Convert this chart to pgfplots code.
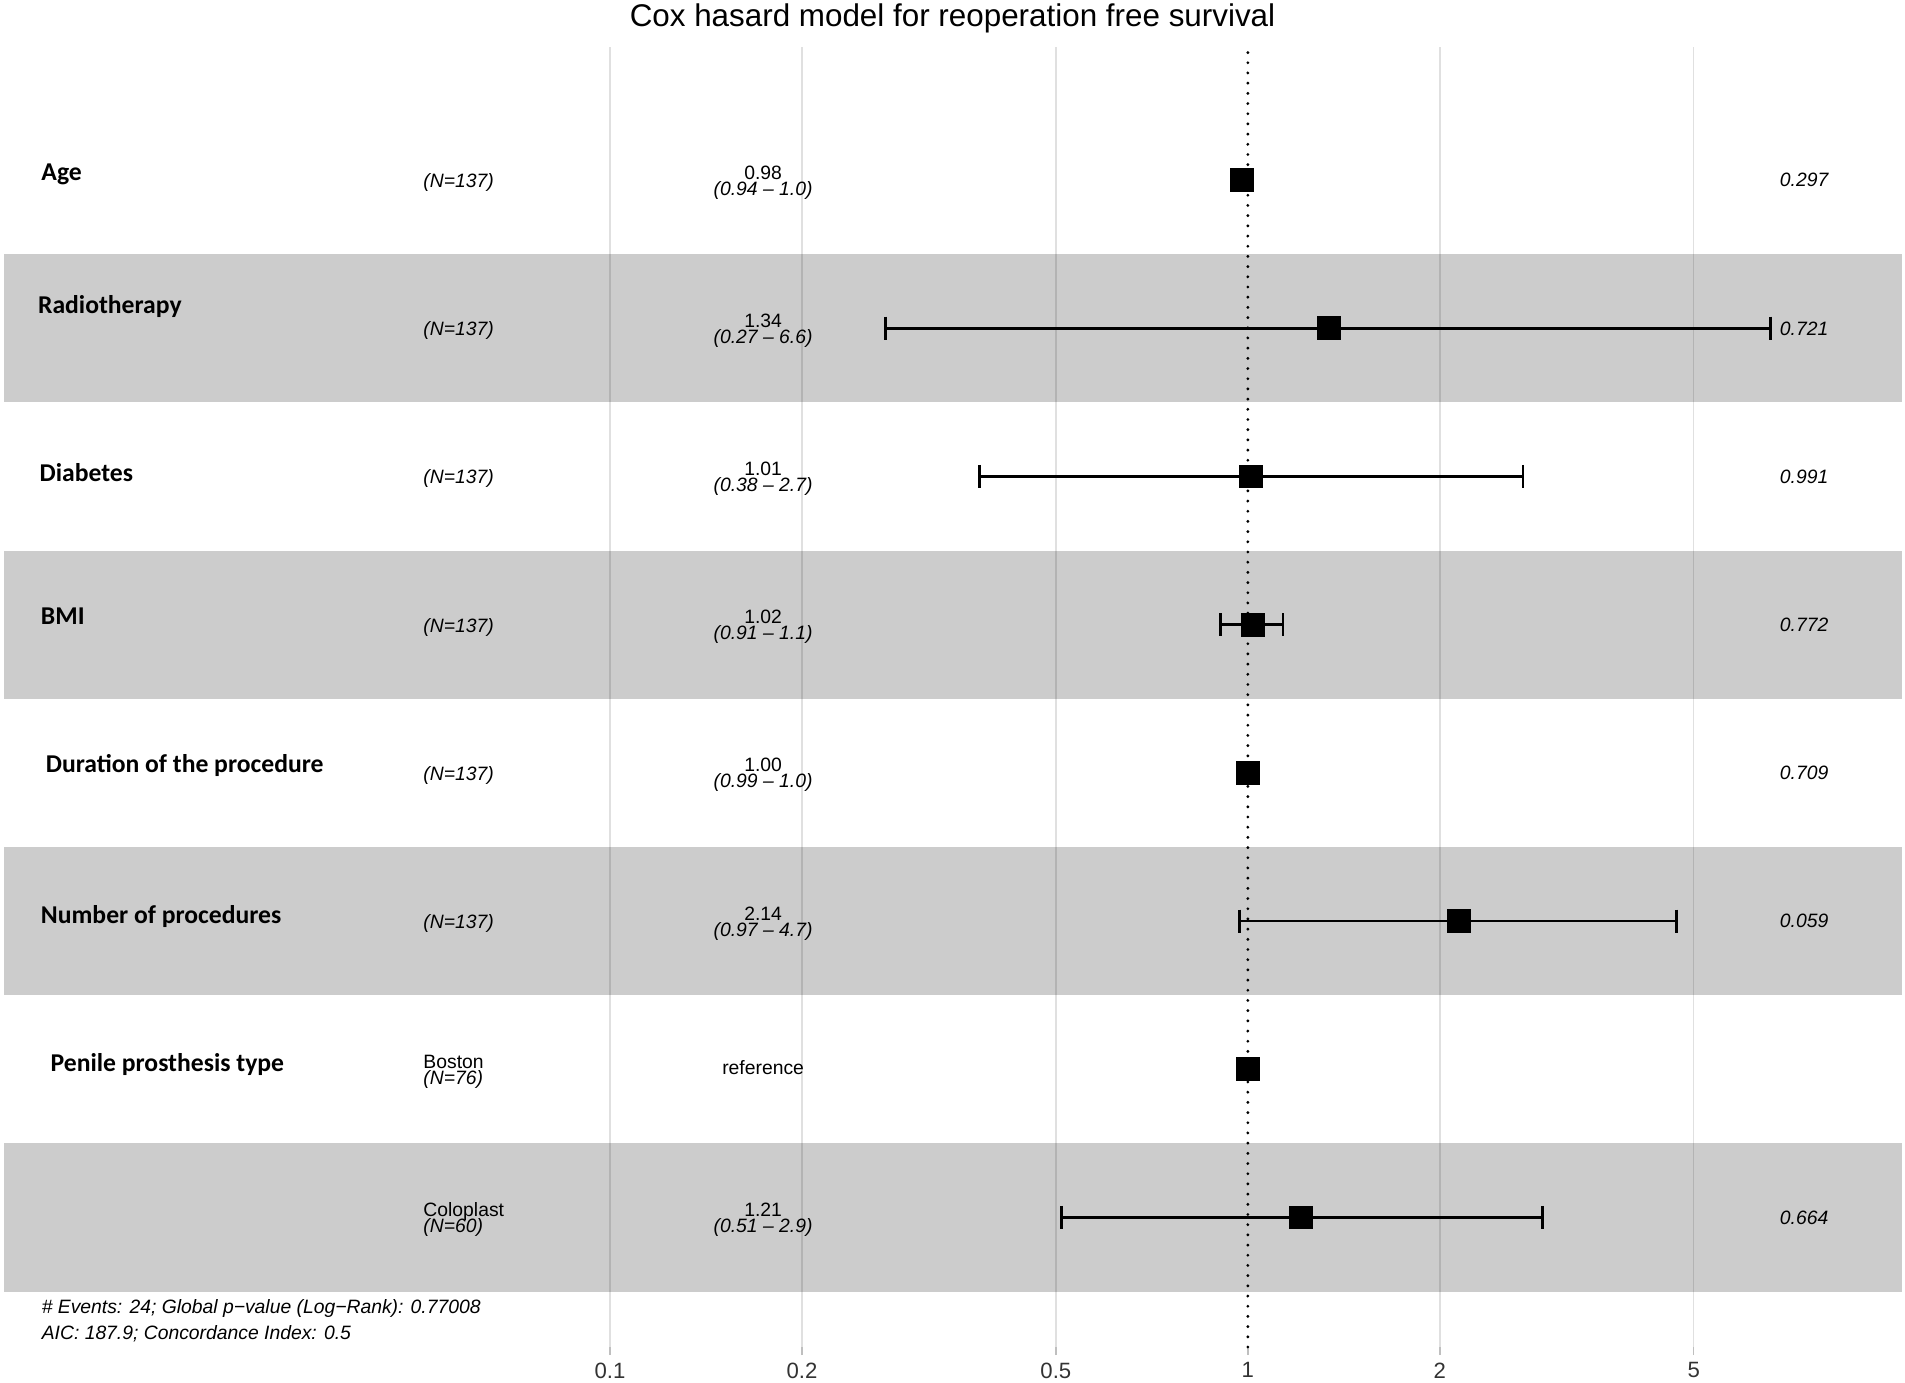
\documentclass[border=0pt]{standalone}
\usepackage{fontspec}
\setmainfont{Liberation Sans}
\newfontfamily\calb{Carlito}
\usepackage{pgfplots}
\pgfplotsset{compat=1.18}
\newcommand{\ann}{\fontsize{5.5}{6}\selectfont}
\newcommand{\lab}{\calb\bfseries\fontsize{7.3}{8}\selectfont}
\begin{document}
\begin{tikzpicture}
\useasboundingbox (-0.36mm,-3.5mm) rectangle (190.14mm,134.7mm);
\begin{axis}[
  at={(0,0)}, anchor=south west,
  width=189.79mm, height=130mm, scale only axis,
  xmode=log, xmin=0.011203, xmax=10.587,
  ymin=0.1255, ymax=8.8975,
  xtick={0.1,0.2,0.5,1,2,5}, xticklabels={0.1,0.2,0.5,1,2,5},
  xminorticks=false, ytick=\empty,
  axis line style={draw=none},
  tick align=outside, xtick pos=left, major tick length=0.8mm,
  tick style={gray!50, line width=0.4pt},
  xticklabel style={font=\fontsize{6.3}{7}\selectfont, text=black!80, inner sep=0pt, yshift=-0.7mm},
  clip=false,
]
% grid lines
\foreach \g in {0.1,0.2,0.5,2,5}{
  \edef\tmp{\noexpand\draw[gray!24, line width=0.4pt] (axis cs:\g,0.1255) -- (axis cs:\g,8.8975);}
  \tmp
}
% bands
\fill[black, opacity=0.2] (axis cs:0.011203,6.5) rectangle (axis cs:10.587,7.5);
\fill[black, opacity=0.2] (axis cs:0.011203,4.5) rectangle (axis cs:10.587,5.5);
\fill[black, opacity=0.2] (axis cs:0.011203,2.5) rectangle (axis cs:10.587,3.5);
\fill[black, opacity=0.2] (axis cs:0.011203,0.5) rectangle (axis cs:10.587,1.5);
% reference line
\addplot[black, line width=0.9pt, dash pattern=on 0pt off 2.9pt, line cap=round] coordinates {(1,0.1255) (1,8.8975)};
% confidence intervals
\pgfplotsset{cistyle/.style={black, line width=0.8pt, mark=|, mark size=1.15mm, mark options={solid, line width=0.8pt}}}
\addplot[cistyle] coordinates {(0.27,7) (6.6,7)};
\addplot[cistyle] coordinates {(0.38,6) (2.7,6)};
\addplot[cistyle] coordinates {(0.905,5) (1.135,5)};
\addplot[cistyle] coordinates {(0.97,3) (4.7,3)};
\addplot[cistyle] coordinates {(0.51,1) (2.9,1)};
% estimates
\addplot[only marks, mark=square*, mark size=1.12mm, black] coordinates {
  (0.98,8) (1.34,7) (1.01,6) (1.02,5) (1.00,4) (2.14,3) (1.00,2) (1.21,1)};
% left labels
\node[anchor=base west, inner sep=0pt, font=\lab] at (axis cs:0.012812,8.0) {Age};
\node[anchor=base west, inner sep=0pt, font=\lab] at (axis cs:0.012655,7.099) {Radiotherapy};
\node[anchor=base west, inner sep=0pt, font=\lab] at (axis cs:0.012729,5.966) {Diabetes};
\node[anchor=base west, inner sep=0pt, font=\lab] at (axis cs:0.012788,5.0) {BMI};
\node[anchor=base west, inner sep=0pt, font=\lab] at (axis cs:0.013017,3.999) {Duration of the procedure};
\node[anchor=base west, inner sep=0pt, font=\lab] at (axis cs:0.012788,2.983) {Number of procedures};
\node[anchor=base west, inner sep=0pt, font=\lab] at (axis cs:0.013244,1.985) {Penile prosthesis type};
% N column
\foreach \k in {8,7,6,5,4,3}{
  \edef\tmp{\noexpand\node[anchor=base west, inner sep=0pt, font=\noexpand\ann\noexpand\itshape, yshift=-0.75mm] at (axis cs:0.05088,\k) {(N=137)};}
  \tmp
}
\node[anchor=base west, inner sep=0pt, font=\ann, yshift=0.1mm] at (axis cs:0.05088,2) {Boston};
\node[anchor=base west, inner sep=0pt, font=\ann\itshape, yshift=-1.5mm] at (axis cs:0.05088,2) {(N=76)};
\node[anchor=base west, inner sep=0pt, font=\ann, yshift=0.1mm] at (axis cs:0.05088,1) {Coloplast};
\node[anchor=base west, inner sep=0pt, font=\ann\itshape, yshift=-1.5mm] at (axis cs:0.05088,1) {(N=60)};
% estimate column
\newcommand{\est}[3]{%
  \node[anchor=base, inner sep=0pt, font=\ann, yshift=0.1mm] at (axis cs:0.1738,#1) {#2};
  \node[anchor=base, inner sep=0pt, font=\ann\itshape, yshift=-1.5mm] at (axis cs:0.1738,#1) {#3};}
\est{8}{0.98}{(0.94 -- 1.0)}
\est{7}{1.34}{(0.27 -- 6.6)}
\est{6}{1.01}{(0.38 -- 2.7)}
\est{5}{1.02}{(0.91 -- 1.1)}
\est{4}{1.00}{(0.99 -- 1.0)}
\est{3}{2.14}{(0.97 -- 4.7)}
\est{1}{1.21}{(0.51 -- 2.9)}
\node[anchor=base, inner sep=0pt, font=\ann, yshift=-0.5mm] at (axis cs:0.1738,2) {reference};
% p values
\newcommand{\pv}[2]{\node[anchor=base east, inner sep=0pt, font=\ann\itshape, yshift=-0.69mm] at (axis cs:8.15,#1) {#2};}
\pv{8}{0.297}
\pv{7}{0.721}
\pv{6}{0.991}
\pv{5}{0.772}
\pv{4}{0.709}
\pv{3}{0.059}
\pv{1}{0.664}
\end{axis}
\node[anchor=base, inner sep=0pt, font=\fontsize{8.93}{10}\selectfont] at (94.89mm,132mm) {Cox hasard model for reoperation free survival};
\node[anchor=base west, inner sep=0pt, font=\ann\itshape] at (3.75mm,3.4mm) {\# Events: 24; Global p−value (Log−Rank): 0.77008};
\node[anchor=base west, inner sep=0pt, font=\ann\itshape] at (3.75mm,0.8mm) {AIC: 187.9; Concordance Index: 0.5};
\end{tikzpicture}
\end{document}
